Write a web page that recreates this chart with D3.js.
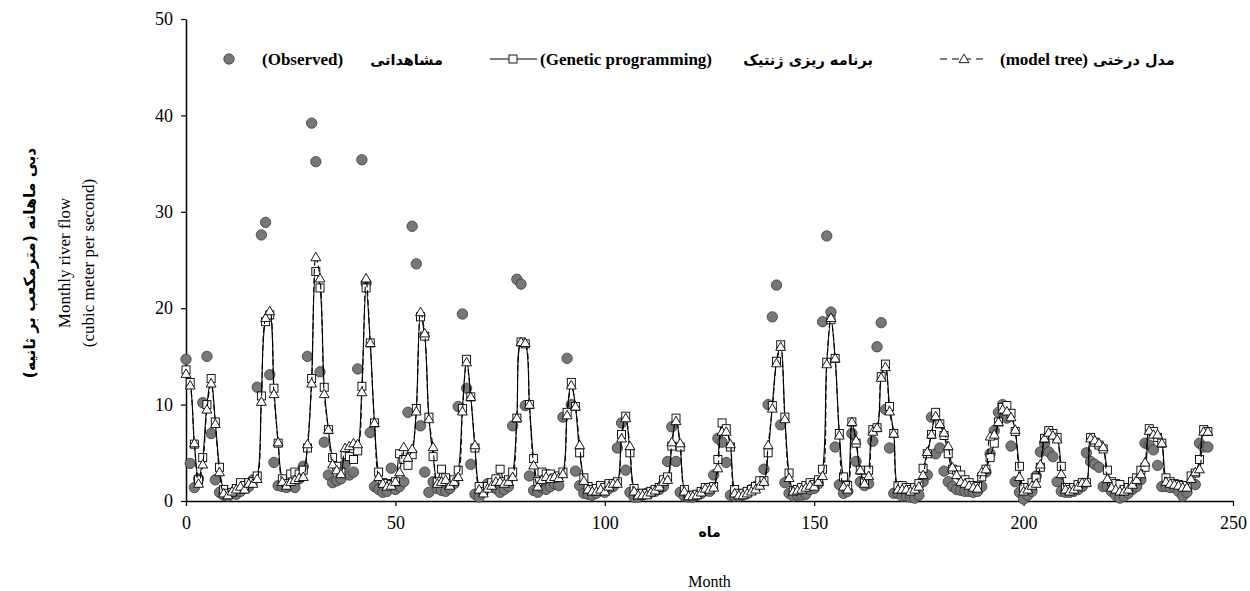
<!DOCTYPE html>
<html>
<head>
<meta charset="utf-8">
<title>Monthly river flow - observed, GP and model tree</title>
<script src="https://d3js.org/d3.v7.min.js"></script>
<style>
  body { margin: 0; background: #fff; }
  svg text { font-family: "Liberation Serif", "Times New Roman", serif; fill: #000; }
  .fa { font-family: "DejaVu Sans", sans-serif; font-weight: bold; }
</style>
</head>
<body>
<div id="chart"></div>
<script>
// monthly flow (m3/s), index = month number
var observed = [
  14.7, 3.9, 1.4, 2.3, 10.2, 15.0, 7.0, 2.2, 0.9, 0.6, 0.5, 0.8,
  0.7, 1.0, 1.3, 1.5, 2.2, 11.8, 27.6, 28.9, 13.1, 4.0, 1.6, 1.5,
  1.4, 1.6, 1.4, 2.3, 3.6, 15.0, 39.2, 35.2, 13.4, 6.1, 2.7, 1.9,
  2.1, 2.3, 3.8, 2.7, 3.0, 13.7, 35.4, 22.6, 7.1, 1.5, 1.2, 0.9,
  1.0, 3.4, 1.2, 1.5, 2.0, 9.2, 28.5, 24.6, 7.8, 3.0, 0.9, 2.0,
  1.3, 1.1, 1.0, 1.3, 1.8, 9.8, 19.4, 11.7, 3.8, 0.7, 0.4, 1.0,
  1.8, 1.5, 1.3, 0.9, 1.2, 1.5, 7.8, 23.0, 22.5, 9.9, 2.6, 1.1,
  0.9, 1.4, 1.2, 1.5, 1.8, 1.6, 8.7, 14.8, 10.0, 3.1, 1.6, 0.8,
  0.7, 0.6, 0.8, 1.1, 0.9, 1.3, 1.5, 5.5, 8.1, 3.2, 0.9, 0.4,
  0.4, 0.6, 0.8, 0.9, 1.0, 1.2, 1.5, 4.1, 7.7, 4.1, 0.9, 0.5,
  0.4, 0.4, 0.6, 0.8, 1.2, 1.0, 2.7, 6.5, 6.1, 4.0, 0.6, 0.5,
  0.5, 0.6, 0.8, 1.2, 1.5, 1.8, 3.3, 10.0, 19.1, 22.4, 7.9, 1.9,
  0.8, 0.5, 0.6, 0.6, 0.7, 1.2, 1.3, 1.8, 18.6, 27.5, 19.6, 5.6,
  1.7, 0.8, 1.0, 7.0, 4.1, 2.0, 1.6, 1.8, 6.2, 16.0, 18.5, 9.5,
  5.5, 0.8, 0.8, 0.5, 0.5, 0.4, 0.3, 0.6, 2.0, 2.7, 8.7, 4.9,
  5.5, 3.1, 2.0, 1.5, 1.2, 1.1, 1.0, 1.0, 0.9, 1.0, 1.5, 3.0,
  4.9, 7.3, 9.2, 10.0, 8.6, 5.7, 2.0, 0.9, 0.2, 0.6, 1.0, 2.6,
  5.1, 6.0, 5.1, 4.6, 2.0, 1.0, 0.9, 0.9, 1.0, 1.2, 1.5, 5.0,
  4.1, 3.8, 3.5, 1.5, 1.5, 1.0, 0.6, 0.3, 0.5, 0.8, 1.2, 1.5,
  2.2, 6.0, 5.8, 5.3, 3.7, 1.5, 1.5, 1.4, 1.4, 1.0, 0.5, 0.9,
  1.8, 1.7, 6.0, 5.6, 5.6
];

var geneticProgramming = [
  13.6, 12.3, 5.9, 2.2, 4.5, 10.0, 12.7, 8.2, 3.5, 1.2, 0.8, 0.9,
  1.3, 1.9, 1.6, 1.9, 2.0, 2.6, 10.9, 18.6, 19.3, 11.7, 6.0, 2.3,
  1.8, 2.8, 3.0, 2.8, 3.2, 5.5, 12.7, 23.8, 22.1, 11.8, 7.4, 4.5,
  3.6, 3.0, 4.8, 4.6, 4.3, 5.2, 11.9, 22.1, 16.4, 8.1, 3.0, 1.9,
  1.8, 1.7, 2.0, 4.9, 4.3, 3.7, 4.8, 9.6, 19.1, 17.1, 8.7, 4.6,
  2.0, 3.3, 2.4, 1.8, 2.2, 3.2, 9.6, 14.7, 10.8, 5.5, 1.5, 1.0,
  1.5, 1.9, 2.3, 3.3, 2.0, 2.2, 3.0, 8.6, 16.5, 16.3, 10.0, 4.4,
  2.0, 3.0, 2.8, 2.8, 2.4, 2.6, 3.0, 9.2, 12.3, 9.8, 5.0, 2.4,
  1.5, 1.2, 1.3, 1.6, 1.4, 1.8, 1.8, 2.0, 6.9, 8.8, 5.0, 1.3,
  0.8, 0.8, 0.8, 1.0, 1.2, 1.4, 2.2, 2.5, 5.7, 8.6, 5.6, 1.2,
  0.6, 0.6, 0.7, 1.0, 1.4, 1.4, 1.5, 4.3, 8.1, 7.5, 5.6, 1.2,
  0.8, 0.8, 1.0, 1.2, 1.5, 2.1, 2.1, 5.0, 9.9, 14.5, 16.2, 8.7,
  2.9, 1.1, 1.2, 1.4, 1.6, 1.9, 1.7, 2.2, 3.3, 14.4, 18.8, 14.8,
  7.0, 2.5, 1.6, 8.2, 6.0, 3.2, 2.0, 3.2, 7.4, 7.6, 12.9, 14.2,
  9.8, 7.0, 1.6, 1.6, 1.4, 1.2, 1.4, 1.8, 3.4, 4.9, 6.9, 9.2,
  8.0, 6.8, 4.9, 3.3, 3.2, 2.7, 2.2, 1.9, 1.6, 1.5, 2.5, 3.3,
  4.5, 6.0, 8.2, 9.7, 9.9, 9.1, 7.2, 3.6, 1.4, 1.4, 1.9, 2.4,
  3.5, 6.5, 7.3, 7.0, 6.6, 3.6, 1.4, 1.2, 1.4, 1.7, 1.9, 1.9,
  6.6, 6.1, 5.8, 5.4, 3.2, 2.0, 1.8, 1.7, 1.2, 1.4, 2.0, 2.4,
  3.2, 3.5, 7.5, 7.2, 6.6, 6.0, 2.4, 2.0, 1.8, 1.7, 1.6, 1.6,
  2.6, 2.9, 4.3, 7.4, 7.2
];

var modelTree = [
  13.2, 12.0, 6.0, 1.8, 3.8, 9.5, 12.2, 8.0, 3.0, 0.8, 0.6, 1.0,
  1.2, 1.5, 1.2, 1.8, 1.8, 2.3, 10.3, 19.0, 19.7, 11.1, 6.1, 2.0,
  1.6, 2.0, 2.2, 2.4, 2.5, 5.9, 12.2, 25.3, 23.1, 11.1, 7.4, 3.8,
  3.2, 2.8, 5.5, 5.7, 6.0, 5.9, 11.3, 23.1, 16.4, 8.1, 2.5, 1.8,
  1.5, 1.6, 2.0, 3.0, 5.6, 4.5, 5.4, 9.3, 19.6, 17.4, 8.5, 5.6,
  1.8, 2.0, 2.2, 1.6, 2.0, 2.5, 9.3, 14.4, 10.8, 5.8, 1.2, 0.8,
  1.3, 1.6, 2.0, 2.0, 1.8, 2.0, 2.5, 8.6, 16.5, 16.4, 10.0, 3.7,
  1.5, 2.2, 2.5, 2.3, 2.5, 2.4, 2.8, 8.9, 12.0, 9.8, 5.8, 2.1,
  1.2, 1.0, 1.0, 1.2, 1.0, 1.5, 1.8, 1.8, 6.5, 8.6, 5.7, 1.0,
  0.6, 0.6, 0.6, 0.9, 1.1, 1.5, 2.0, 2.2, 6.1, 8.3, 6.0, 1.0,
  0.5, 0.5, 0.6, 0.9, 1.3, 1.2, 1.4, 3.4, 7.2, 7.2, 5.9, 0.8,
  0.6, 0.6, 0.8, 1.0, 1.2, 1.6, 2.0, 5.8, 9.6, 14.3, 16.0, 8.5,
  2.4, 1.0, 1.1, 1.2, 1.4, 1.6, 1.5, 2.0, 2.6, 14.2, 19.0, 14.8,
  6.8, 1.5, 1.2, 8.2, 6.3, 3.2, 1.8, 2.6, 7.2, 7.6, 12.8, 13.9,
  9.3, 7.0, 1.2, 1.2, 1.2, 1.0, 1.2, 1.5, 2.7, 5.1, 6.9, 8.8,
  8.0, 7.1, 5.7, 3.5, 2.7, 2.0, 1.8, 1.6, 1.4, 1.3, 3.0, 3.3,
  6.7, 6.9, 8.2, 9.5, 9.3, 8.7, 7.4, 2.5, 1.0, 1.2, 1.6, 1.8,
  3.8, 6.5, 7.1, 6.8, 6.4, 2.8, 1.2, 1.0, 1.2, 1.5, 1.9, 1.9,
  6.5, 6.3, 6.0, 5.6, 2.3, 1.4, 1.2, 1.0, 1.0, 1.2, 1.7, 2.2,
  2.8, 4.0, 7.3, 6.9, 6.9, 6.0, 2.0, 1.8, 1.7, 1.6, 1.4, 1.4,
  2.3, 3.0, 3.3, 7.2, 7.2
];

var xTicks = [0, 50, 100, 150, 200, 250];
var yTicks = [0, 10, 20, 30, 40, 50];

var legendEnglish = ["(Observed)", "(Genetic programming)", "(model tree)"];
var legendPersian = ["مشاهداتی", "برنامه ریزی ژنتیک", "مدل درختی"];

var W = 1250, H = 591;
var plotLeft = 186, plotRight = 1233, plotTop = 19, plotBottom = 501;

var svg = d3.select("#chart").append("svg")
  .attr("width", W)
  .attr("height", H);

var x = d3.scaleLinear().domain([0, 250]).range([plotLeft, plotRight]);
var y = d3.scaleLinear().domain([0, 50]).range([plotBottom, plotTop]);

// axes
var xAxis = svg.append("g")
  .attr("transform", "translate(0," + plotBottom + ")")
  .call(d3.axisBottom(x).tickValues(xTicks).tickSize(5).tickSizeOuter(0).tickPadding(10));
var yAxis = svg.append("g")
  .attr("transform", "translate(" + plotLeft + ",0)")
  .call(d3.axisLeft(y).tickValues(yTicks).tickSize(5).tickSizeOuter(0).tickPadding(8));

[xAxis, yAxis].forEach(function (g) {
  g.select(".domain").attr("stroke", "#000").attr("stroke-width", 1.5);
  g.selectAll(".tick line").attr("stroke", "#000").attr("stroke-width", 1.2);
  g.selectAll(".tick text")
    .attr("font-family", "Liberation Serif, serif")
    .attr("font-size", 18)
    .attr("fill", "#000");
});

var curve = d3.curveCatmullRom.alpha(0.5);

var seriesLine = d3.line()
  .x(function (d, i) { return x(i); })
  .y(function (d) { return y(d); })
  .curve(curve);

// observed circles drawn first
svg.append("g").selectAll("circle")
  .data(observed)
  .enter()
  .append("circle")
  .attr("cx", function (d, i) { return x(i); })
  .attr("cy", function (d) { return y(d); })
  .attr("r", 5.2)
  .attr("fill", "#777")
  .attr("stroke", "#3a3a3a")
  .attr("stroke-width", 0.8);

// genetic programming: solid line + squares
svg.append("path")
  .datum(geneticProgramming)
  .attr("d", seriesLine)
  .attr("fill", "none")
  .attr("stroke", "#000")
  .attr("stroke-width", 1.1);

svg.append("g").selectAll("rect")
  .data(geneticProgramming)
  .enter()
  .append("rect")
  .attr("x", function (d, i) { return x(i) - 4; })
  .attr("y", function (d) { return y(d) - 4; })
  .attr("width", 8)
  .attr("height", 8)
  .attr("fill", "#fff")
  .attr("stroke", "#000")
  .attr("stroke-width", 0.9);

// model tree: dashed line + triangles
svg.append("path")
  .datum(modelTree)
  .attr("d", seriesLine)
  .attr("fill", "none")
  .attr("stroke", "#000")
  .attr("stroke-width", 1.1)
  .attr("stroke-dasharray", "6,3");

var tri = d3.symbol().type(d3.symbolTriangle).size(42);
svg.append("g").selectAll("path")
  .data(modelTree)
  .enter()
  .append("path")
  .attr("d", tri)
  .attr("transform", function (d, i) { return "translate(" + x(i) + "," + (y(d) + 0.8) + ")"; })
  .attr("fill", "#fff")
  .attr("stroke", "#000")
  .attr("stroke-width", 0.9);

// legend
var ly = 59;
var legend = svg.append("g");

legend.append("circle")
  .attr("cx", 229).attr("cy", ly).attr("r", 5.2)
  .attr("fill", "#777").attr("stroke", "#3a3a3a").attr("stroke-width", 0.8);
legend.append("text").attr("x", 262).attr("y", ly + 6)
  .attr("font-size", 17).attr("font-weight", "bold").text(legendEnglish[0]);
legend.append("text").attr("class", "fa").attr("x", 443).attr("y", ly + 6)
  .attr("font-size", 14.5).attr("text-anchor", "end").text(legendPersian[0]);

legend.append("line")
  .attr("x1", 490).attr("x2", 537).attr("y1", ly).attr("y2", ly)
  .attr("stroke", "#000").attr("stroke-width", 1.1);
legend.append("rect")
  .attr("x", 509).attr("y", ly - 4).attr("width", 8).attr("height", 8)
  .attr("fill", "#fff").attr("stroke", "#000").attr("stroke-width", 0.9);
legend.append("text").attr("x", 540).attr("y", ly + 6)
  .attr("font-size", 17).attr("font-weight", "bold").text(legendEnglish[1]);
legend.append("text").attr("class", "fa").attr("x", 873).attr("y", ly + 6)
  .attr("font-size", 14.5).attr("text-anchor", "end").text(legendPersian[1]);

legend.append("line")
  .attr("x1", 940).attr("x2", 987).attr("y1", ly).attr("y2", ly)
  .attr("stroke", "#000").attr("stroke-width", 1.1).attr("stroke-dasharray", "7,5");
legend.append("path")
  .attr("d", tri)
  .attr("transform", "translate(964," + (ly + 0.8) + ")")
  .attr("fill", "#fff").attr("stroke", "#000").attr("stroke-width", 0.9);
legend.append("text").attr("x", 1000).attr("y", ly + 6)
  .attr("font-size", 17).attr("font-weight", "bold").text(legendEnglish[2]);
legend.append("text").attr("class", "fa").attr("x", 1093).attr("y", ly + 6)
  .attr("font-size", 14.5).text(legendPersian[2]);

// axis titles
var ymid = 263;
svg.append("text")
  .attr("class", "fa")
  .attr("transform", "translate(35," + ymid + ") rotate(-90)")
  .attr("text-anchor", "middle")
  .attr("direction", "rtl")
  .attr("font-size", 15.5)
  .text("دبی ماهانه (مترمکعب بر ثانیه)");
svg.append("text")
  .attr("transform", "translate(70," + ymid + ") rotate(-90)")
  .attr("text-anchor", "middle")
  .attr("font-size", 17)
  .text("Monthly river flow");
svg.append("text")
  .attr("transform", "translate(94," + ymid + ") rotate(-90)")
  .attr("text-anchor", "middle")
  .attr("font-size", 17)
  .text("(cubic meter per second)");

var xmid = (plotLeft + plotRight) / 2;
svg.append("text")
  .attr("class", "fa")
  .attr("x", xmid).attr("y", 537)
  .attr("text-anchor", "middle")
  .attr("font-size", 14)
  .text("ماه");
svg.append("text")
  .attr("x", xmid).attr("y", 587)
  .attr("text-anchor", "middle")
  .attr("font-size", 16)
  .text("Month");
</script>
</body>
</html>
